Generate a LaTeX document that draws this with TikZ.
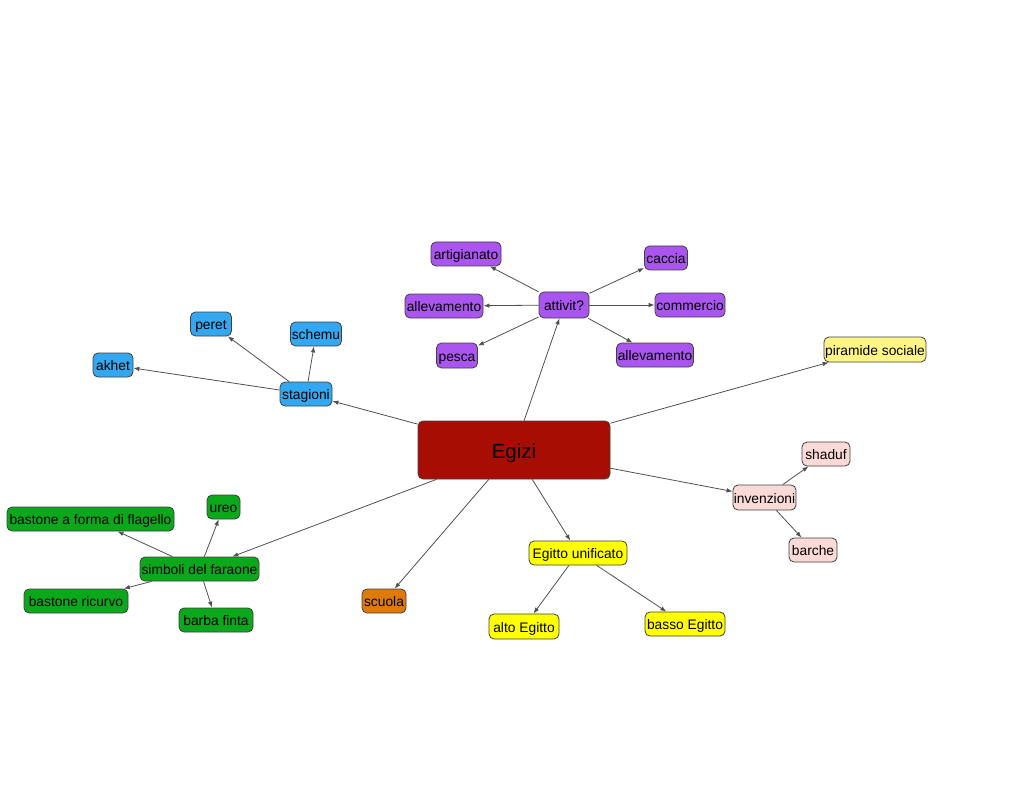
\documentclass[tikz,border=0pt]{standalone}
\usepackage{fontspec}
\setmainfont{Liberation Sans}
\usetikzlibrary{arrows.meta}
\definecolor{cpurple}{RGB}{170,85,240}
\definecolor{cblue}{RGB}{51,168,240}
\definecolor{cgreen}{RGB}{12,168,28}
\definecolor{cred}{RGB}{168,13,3}
\definecolor{cyellow}{RGB}{255,255,0}
\definecolor{clyellow}{RGB}{255,245,135}
\definecolor{cpink}{RGB}{250,218,215}
\definecolor{corange}{RGB}{222,122,10}
\definecolor{cedge}{RGB}{80,80,80}
\tikzset{
  box/.style={draw=black!75, line width=0.8pt, rounded corners=5pt, inner sep=0pt,
    minimum height=24pt, text height=12pt, text depth=1pt, font=\fontsize{13.8}{16}\selectfont},
  conn/.style={draw=cedge, line width=0.8pt, -{Latex[length=6pt,width=4.5pt]}},
}
\begin{document}
\begin{tikzpicture}[x=1pt,y=-1pt]
\useasboundingbox (0,0) rectangle (1024,791);
% central
\node[box, fill=cred, minimum width=192pt, minimum height=58pt, text height=18pt, text depth=2pt, font=\fontsize{20.5}{24}\selectfont] (eg) at (514,450) {Egizi};
% attivita
\node[box, fill=cpurple, minimum width=50pt, minimum height=26pt] (at) at (564,305) {attivit?};
\node[box, fill=cpurple, minimum width=70pt] (art) at (466,254) {artigianato};
\node[box, fill=cpurple, minimum width=43pt] (cac) at (666,258) {caccia};
\node[box, fill=cpurple, minimum width=78pt] (all1) at (444,306) {allevamento};
\node[box, fill=cpurple, minimum width=70pt] (com) at (690,305) {commercio};
\node[box, fill=cpurple, minimum width=41pt, minimum height=25pt] (pes) at (457,355.5) {pesca};
\node[box, fill=cpurple, minimum width=77pt] (all2) at (655,355) {allevamento};
% piramide
\node[box, fill=clyellow, minimum width=102pt, minimum height=25pt] (pir) at (875,349.5) {piramide sociale};
% stagioni
\node[box, fill=cblue, minimum width=52pt] (sta) at (306,394) {stagioni};
\node[box, fill=cblue, minimum width=41pt] (per) at (211,324) {peret};
\node[box, fill=cblue, minimum width=51pt] (sch) at (316,334) {schemu};
\node[box, fill=cblue, minimum width=40pt] (akh) at (113,365) {akhet};
% invenzioni
\node[box, fill=cpink, minimum width=63pt, minimum height=25pt] (inv) at (764.5,497.5) {invenzioni};
\node[box, fill=cpink, minimum width=48pt] (sha) at (826,454) {shaduf};
\node[box, fill=cpink, minimum width=48pt] (bar) at (813,550) {barche};
% Egitto
\node[box, fill=cyellow, minimum width=98pt] (egu) at (578,553) {Egitto unificato};
\node[box, fill=cyellow, minimum width=70pt, minimum height=25pt] (alt) at (524,626.5) {alto Egitto};
\node[box, fill=cyellow, minimum width=80pt] (bas) at (685,624) {basso Egitto};
% scuola
\node[box, fill=corange, minimum width=44pt] (scu) at (384,601) {scuola};
% simboli
\node[box, fill=cgreen, minimum width=119pt] (sim) at (199.5,569) {simboli del faraone};
\node[box, fill=cgreen, minimum width=167pt] (fla) at (90.5,519) {bastone a forma di flagello};
\node[box, fill=cgreen, minimum width=33pt] (ure) at (223.5,507) {ureo};
\node[box, fill=cgreen, minimum width=104pt] (ric) at (76,601) {bastone ricurvo};
\node[box, fill=cgreen, minimum width=74pt] (bfi) at (216,620) {barba finta};
% connectors
\draw[conn] (eg) -- (at);
\draw[conn] (at) -- (art);
\draw[conn] (at) -- (cac);
\draw[conn] (at) -- (all1);
\draw[conn] (at) -- (com);
\draw[conn] (at) -- (pes);
\draw[conn] (at) -- (all2);
\draw[conn] (eg) -- (pir);
\draw[conn] (eg) -- (sta);
\draw[conn] (sta) -- (per);
\draw[conn] (sta) -- (sch);
\draw[conn] (sta) -- (akh);
\draw[conn] (eg) -- (inv);
\draw[conn] (inv) -- (sha);
\draw[conn] (inv) -- (bar);
\draw[conn] (eg) -- (egu);
\draw[conn] (egu) -- (alt);
\draw[conn] (egu) -- (bas);
\draw[conn] (eg) -- (scu);
\draw[conn] (eg) -- (sim);
\draw[conn] (sim) -- (fla);
\draw[conn] (sim) -- (ure);
\draw[conn] (sim) -- (ric);
\draw[conn] (sim) -- (bfi);
\end{tikzpicture}
\end{document}
